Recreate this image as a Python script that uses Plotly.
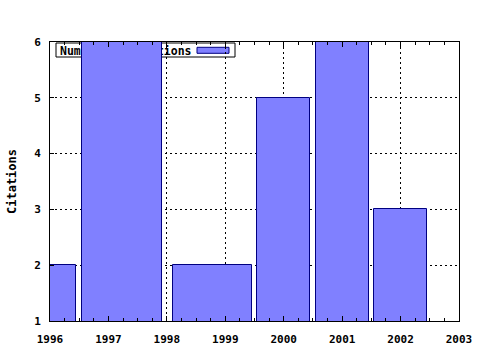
import plotly.graph_objects as go

# Data
bar_start = [1995.55, 1996.55, 1998.10, 1999.55, 2000.55, 2001.55]
bar_end = [1996.45, 1997.92, 1999.46, 2000.45, 2001.46, 2002.45]
citations = [2, 6, 2, 5, 6, 3]
year_ticks = [1996, 1997, 1998, 1999, 2000, 2001, 2002, 2003]
y_ticks = [1, 2, 3, 4, 5, 6]
series_name = "Number of citations"
y_title = "Citations"

centers = [(a + b) / 2 for a, b in zip(bar_start, bar_end)]
widths = [b - a for a, b in zip(bar_start, bar_end)]

FILL = "#8080ff"
EDGE = "#000080"
MONO = "DejaVu Sans Mono"

fig = go.Figure()
fig.add_trace(go.Bar(
    x=centers, y=citations, width=widths, name=series_name,
    marker=dict(color=FILL, line=dict(color=EDGE, width=1)),
    showlegend=False,
))

grid = dict(showgrid=True, gridcolor="#000000", gridwidth=1, griddash="2px,3px")

fig.update_layout(
    width=480, height=350,
    margin=dict(l=50, r=21, t=42, b=29, autoexpand=False),
    paper_bgcolor="white", plot_bgcolor="white",
    bargap=0,
    xaxis=dict(
        range=[year_ticks[0], year_ticks[-1]], automargin=False,
        tickmode="array", tickvals=year_ticks, ticktext=[str(v) for v in year_ticks],
        ticks="inside", ticklen=5, tickcolor="black", tickwidth=1,
        minor=dict(dtick=0.25, ticks="inside", ticklen=3, tickcolor="black", showgrid=False),
        showline=True, linecolor="black", linewidth=1, mirror="allticks",
        tickfont=dict(family=MONO, size=11, color="black", weight="bold"),
        ticklabelstandoff=8,
        zeroline=False, **grid,
    ),
    yaxis=dict(
        range=[y_ticks[0], y_ticks[-1]], automargin=False,
        tickmode="array", tickvals=y_ticks,
        ticks="inside", ticklen=4, tickcolor="black", tickwidth=1,
        showline=True, linecolor="black", linewidth=1, mirror=True,
        tickfont=dict(family=MONO, size=11, color="black", weight="bold"),
        ticklabelstandoff=6,
        title=dict(text=y_title, standoff=14,
                   font=dict(family=MONO, size=12, color="black", weight="bold")),
        zeroline=False, **grid,
    ),
    yaxis2=dict(
        overlaying="y", side="left", range=[y_ticks[0], y_ticks[-1]], automargin=False,
        tickmode="array", tickvals=y_ticks, showticklabels=False,
        ticks="outside", ticklen=4, tickcolor="black",
        showgrid=False, showline=False, zeroline=False,
    ),
)

# Legend box drawn beneath the bars (as in the reference)
fig.add_shape(
    type="rect", xref="paper", yref="paper", layer="between",
    x0=6 / 409, x1=185 / 409, y0=(321 - 57) / 279, y1=(321 - 43) / 279,
    fillcolor="white", line=dict(color="black", width=1),
    label=dict(text="<b>" + series_name + "</b>", textposition="middle left", padding=1,
               font=dict(family=MONO, size=11.5, color="black")),
)
fig.add_shape(
    type="rect", xref="paper", yref="paper", layer="between",
    x0=147 / 409, x1=179 / 409, y0=(321 - 53.3) / 279, y1=(321 - 47.3) / 279,
    fillcolor=FILL, line=dict(color=EDGE, width=1),
)

fig.write_html("out.html")
